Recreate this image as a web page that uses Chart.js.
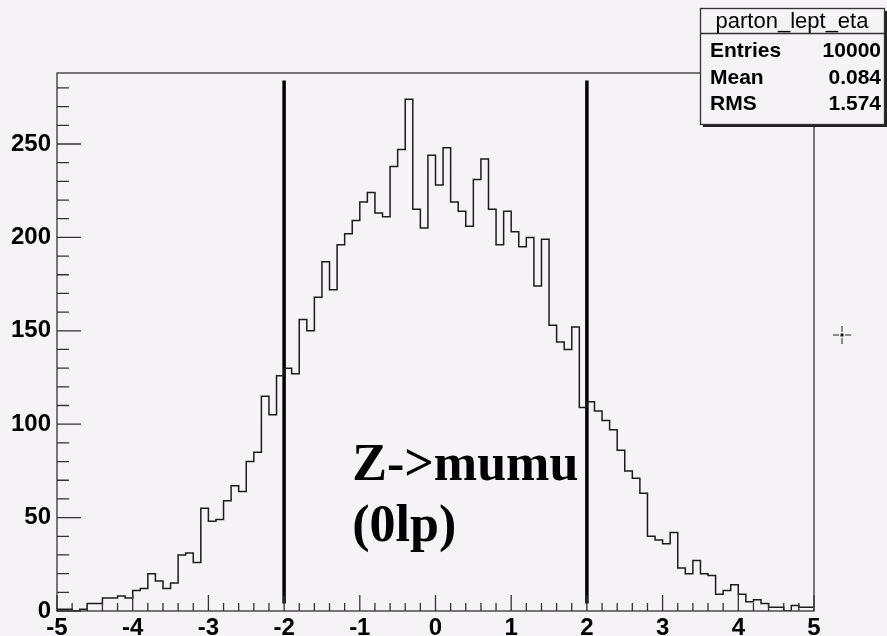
<!DOCTYPE html>
<html>
<head>
<meta charset="utf-8">
<script src="https://cdn.jsdelivr.net/npm/chart.js@4/dist/chart.umd.min.js"></script>
<style>
  html, body { margin: 0; padding: 0; background: #f6f3f6; overflow: hidden; }
  canvas { display: block; }
</style>
</head>
<body>
<canvas id="chart" width="887" height="636"></canvas>
<script>
// lepton eta at parton level, 100 bins from -5 to 5
const xMin = -5
const xMax = 5
const binWidth = 0.1
const counts = [
    0, 1, 1, 0, 1, 4, 4, 7, 7, 8,
    7, 11, 12, 20, 16, 12, 15, 30, 31, 26,
    55, 48, 49, 59, 67, 64, 80, 85, 115, 105,
    126, 130, 127, 156, 150, 168, 187, 172, 196, 202,
    209, 219, 224, 213, 211, 238, 247, 274, 215, 205,
    244, 228, 248, 219, 214, 206, 231, 242, 215, 196,
    214, 203, 195, 200, 174, 199, 153, 144, 140, 152,
    109, 112, 107, 102, 97, 86, 75, 71, 63, 40,
    38, 36, 42, 23, 20, 27, 20, 19, 9, 11,
    14, 9, 5, 6, 4, 2, 2, 0, 3, 2,
]
const yMax = 288

// eta cuts
const cutLines = [-2, 2]
const cutSpan = [4, 284]

const xTicks = [-5, -4, -3, -2, -1, 0, 1, 2, 3, 4, 5]
const yTicks = [0, 50, 100, 150, 200, 250]

const statsTitle = 'parton_lept_eta'
const statNames = ['Entries', 'Mean', 'RMS']
const statValues = ['10000', '0.084', '1.574']

const noteLines = ['Z->mumu', '(0lp)']

let histPoints = counts.map((c, i) => ({x: xMin + i * binWidth, y: c}))
histPoints.push({x: xMax, y: counts[counts.length - 1]})

const tickFont = {family: 'Liberation Sans', size: 24, weight: 'bold'}
const frameColor = '#333'

// ROOT style: ticks drawn inward, frame, stats box, text label
const rootDecor = {
    id: 'rootDecor',
    afterDatasetsDraw(chart) {
        const {ctx, chartArea: a, scales: {x, y}} = chart
        ctx.save()
        ctx.strokeStyle = frameColor
        ctx.lineWidth = 1.3
        ctx.beginPath()
        for (let v = 0; v <= 280; v += 10) {
            const py = y.getPixelForValue(v)
            ctx.moveTo(a.left, py)
            ctx.lineTo(a.left + (v % 50 === 0 ? 24 : 12), py)
        }
        for (let k = -25; k <= 25; k++) {
            const px = x.getPixelForValue(k / 5)
            ctx.moveTo(px, a.bottom)
            ctx.lineTo(px, a.bottom - (k % 5 === 0 ? 16 : 8))
        }
        ctx.stroke()
        ctx.strokeRect(a.left, a.top, a.width, a.height)

        // text label
        ctx.fillStyle = '#000'
        ctx.font = 'bold 52px "Liberation Serif"'
        ctx.textBaseline = 'alphabetic'
        ctx.textAlign = 'left'
        const tx = x.getPixelForValue(-1.1)
        ctx.fillText(noteLines[0], tx, y.getPixelForValue(70))
        ctx.fillText(noteLines[1], tx, y.getPixelForValue(37.5))

        // marker glyph right of the frame
        const cx = a.right + 28, cy = 335
        ctx.fillStyle = '#111'
        ctx.fillRect(cx - 1.5, cy - 1.5, 3, 3)
        ctx.strokeStyle = '#222'
        ctx.lineWidth = 1
        ctx.beginPath()
        ctx.moveTo(cx - 9, cy); ctx.lineTo(cx - 3, cy)
        ctx.moveTo(cx + 3, cy); ctx.lineTo(cx + 9, cy)
        ctx.moveTo(cx, cy - 9); ctx.lineTo(cx, cy - 3)
        ctx.moveTo(cx, cy + 3); ctx.lineTo(cx, cy + 9)
        ctx.stroke()

        // stats box
        const bx = 700, by = 8, bw = 184, bh = 116
        ctx.fillStyle = '#222'
        ctx.fillRect(bx + 3, by + bh, bw, 3)
        ctx.fillRect(bx + bw, by + 3, 3, bh)
        ctx.fillStyle = '#f6f3f6'
        ctx.fillRect(bx, by, bw, bh)
        ctx.strokeStyle = frameColor
        ctx.lineWidth = 1.3
        ctx.strokeRect(bx + 0.5, by + 0.5, bw, bh)
        ctx.beginPath()
        ctx.moveTo(bx, by + 25.5)
        ctx.lineTo(bx + bw, by + 25.5)
        ctx.stroke()

        ctx.fillStyle = '#000'
        ctx.font = '22px "Liberation Sans"'
        ctx.textAlign = 'center'
        ctx.fillText(statsTitle, bx + bw / 2, by + 20)
        ctx.font = 'bold 21px "Liberation Sans"'
        statNames.forEach((name, i) => {
            const base = by + 49 + i * 26.7
            ctx.textAlign = 'left'
            ctx.fillText(name, bx + 10, base)
            ctx.textAlign = 'right'
            ctx.fillText(statValues[i], bx + bw - 3, base)
        })
        ctx.restore()
    },
}

new Chart(document.getElementById('chart'), {
    type: 'line',
    data: {
        datasets: [
            {
                data: histPoints,
                stepped: 'after',
                borderColor: '#1c1c1c',
                borderWidth: 1.5,
                pointRadius: 0,
                fill: false,
            },
            ...cutLines.map(c => ({
                data: [{x: c, y: cutSpan[0]}, {x: c, y: cutSpan[1]}],
                borderColor: '#000',
                borderWidth: 3.5,
                pointRadius: 0,
                fill: false,
            })),
        ],
    },
    options: {
        responsive: false,
        animation: false,
        devicePixelRatio: 1,
        layout: {padding: {top: 73, right: 73, left: 0, bottom: 0}},
        plugins: {legend: {display: false}, tooltip: {enabled: false}},
        scales: {
            x: {
                type: 'linear',
                min: xMin,
                max: xMax,
                afterBuildTicks: s => { s.ticks = xTicks.map(v => ({value: v})) },
                afterFit: s => { s.height = 25 },
                ticks: {font: tickFont, color: '#000', padding: 3, maxRotation: 0, autoSkip: false},
                grid: {display: false, drawTicks: false},
                border: {display: false},
            },
            y: {
                min: 0,
                max: yMax,
                afterBuildTicks: s => { s.ticks = yTicks.map(v => ({value: v})) },
                afterFit: s => { s.width = 57 },
                ticks: {font: tickFont, color: '#000', padding: 6},
                grid: {display: false, drawTicks: false},
                border: {display: false},
            },
        },
    },
    plugins: [rootDecor],
})
</script>
</body>
</html>
